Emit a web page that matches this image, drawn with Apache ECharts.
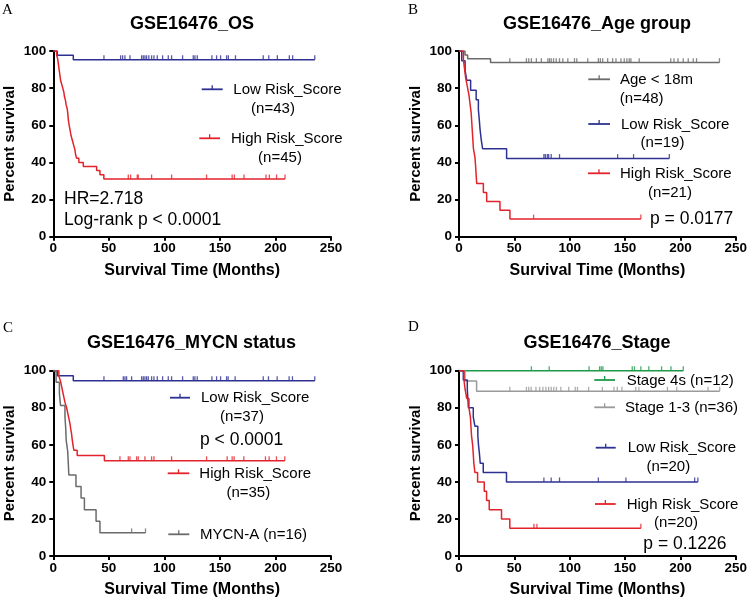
<!DOCTYPE html>
<html>
<head>
<meta charset="utf-8">
<script src="https://cdn.jsdelivr.net/npm/echarts@6/dist/echarts.min.js"></script>
<style>html,body{margin:0;padding:0;background:#fff;}#c{width:750px;height:601px;}</style>
</head>
<body>
<div id="c"></div>
<script>
// ---------- DATA ----------
const xTicks = [0, 50, 100, 150, 200, 250];
const yTicks = [0, 20, 40, 60, 80, 100];

// Panel A: GSE16476_OS
const A_low_t = [0, 3.6, 18, 235.4];
const A_low_s = [100, 97.7, 95.3, 95.3];
const A_low_c = [45.6, 60.6, 62.4, 64.5, 69, 79.5, 81, 82.5, 84, 86, 88.5, 90.6, 93.6, 98.4, 103.5, 106.5, 116.4, 126, 127.5, 129.6, 142.8, 147, 150.6, 156, 157.6, 164, 189, 194, 201.7, 212.5, 215.5, 235.4];
const A_high_t = [0, 3, 4, 4.5, 5, 5.5, 6, 6.5, 7.5, 8.5, 9.5, 10, 11, 11.5, 12.5, 13, 13.3, 13.7, 14.3, 15, 15.6, 16.5, 17.5, 18.5, 19.5, 20, 21, 23, 27, 39, 42, 45.5, 208.6];
const A_high_s = [100, 97.8, 95.6, 93.3, 91.1, 88.9, 86.7, 84.4, 82.2, 80, 77.8, 75.6, 73.3, 71.1, 68.9, 66.7, 64.4, 62.2, 60, 57.8, 55.6, 53.3, 51.1, 48.9, 46.7, 44.4, 42.2, 40, 37.8, 35.6, 33.3, 31.1, 31.1];
const A_high_c = [67.5, 69.6, 75.6, 76.5, 88.5, 106.5, 138, 161, 163, 171.7, 191.5, 194.5, 201, 208.6];

// Panel B: GSE16476_Age group
const B_age_t = [0, 5.4, 7.8, 28.5, 235.3];
const B_age_s = [100, 97.9, 95.8, 93.75, 93.75];
const B_age_c = [45.9, 60.9, 63, 65.4, 69.9, 74.4, 80.3, 81.8, 83.3, 85.4, 87.8, 90.8, 93.8, 98.3, 104.3, 106.4, 116.3, 125.9, 127.7, 129.8, 134.3, 138.8, 141.8, 146.3, 149.3, 151.7, 153.8, 155.3, 162.8, 191.3, 194.2, 197.8, 202.6, 207.1, 211.6, 214.6, 235.3];
const B_low_t = [0, 2.5, 5.5, 7, 10.5, 15.5, 17.5, 18.3, 19, 20, 21.3, 43, 190];
const B_low_s = [100, 94.7, 89.5, 84.2, 78.9, 73.7, 68.4, 63.2, 57.9, 52.6, 47.4, 42.1, 42.1];
const B_low_c = [76.7, 78, 79.8, 81, 83.3, 90.8, 143.3, 157.7, 190];
const B_high_t = [0, 4, 5, 6, 7.5, 9, 10, 11, 11.5, 12, 12.5, 13, 14.4, 15, 15.5, 16, 22, 25, 37, 46, 164.3];
const B_high_s = [100, 95.2, 90.5, 85.7, 81, 76.2, 71.4, 66.7, 61.9, 57.1, 52.4, 47.6, 42.9, 38.1, 33.3, 28.6, 23.8, 19, 14.3, 9.5, 9.5];
const B_high_c = [67.4, 164.3];

// Panel C: GSE16476_MYCN status
const C_low_t = [0, 3.6, 18, 235.4];
const C_low_s = [100, 97.3, 94.6, 94.6];
const C_low_c = [45.6, 63, 64.5, 66, 70.5, 79.5, 81, 82.5, 84, 85.5, 88.5, 90.6, 93.6, 98.4, 103.5, 106.5, 116.4, 126, 127.5, 129.6, 142.8, 147, 150.6, 156, 157.4, 163.7, 189, 193.7, 201.5, 212.3, 215.3, 235.4];
const C_high_t = [0, 5, 6.5, 7.5, 8.5, 9.5, 10.5, 12, 13, 14, 15, 15.7, 16.5, 17, 17.7, 18.5, 21.5, 46, 208.4];
const C_high_s = [100, 97.1, 94.3, 91.4, 88.6, 85.7, 82.9, 80, 77.1, 74.3, 71.4, 68.6, 65.7, 62.9, 60, 57.1, 54.3, 51.4, 51.4];
const C_high_c = [60, 67.5, 69, 75, 76.5, 82.5, 88.5, 90.6, 106.5, 138, 156.5, 161, 162.8, 171.5, 191, 194.3, 200.9, 208.4];
const C_mycn_t = [0, 2.5, 5.5, 6.5, 10.5, 11.2, 11.6, 13, 13.5, 14, 20.4, 25, 28, 38.5, 42, 83];
const C_mycn_s = [100, 93.75, 87.5, 81.25, 75, 68.75, 62.5, 56.25, 50, 43.75, 37.5, 31.25, 25, 18.75, 12.5, 12.5];
const C_mycn_c = [70.5, 83];

// Panel D: GSE16476_Stage
const D_4s_t = [0, 202.6];
const D_4s_s = [100, 100];
const D_4s_c = [65.4, 81.5, 117.5, 127, 128.5, 130, 156.5, 158.5, 164.3, 171.5, 183, 191.5, 202.6];
const D_13_t = [0, 5.4, 15.9, 235.5];
const D_13_s = [100, 94.4, 88.9, 88.9];
const D_13_c = [45.9, 60.9, 63, 65.2, 69.5, 72.9, 75.8, 78.5, 81, 83.3, 85.6, 88, 92, 99.1, 105, 107, 117.1, 129.5, 140, 143, 147.2, 159.7, 162.5, 188.3, 196.7, 225, 235.5];
const D_low_t = [0, 3.9, 7.5, 8, 8.5, 12.9, 14.4, 17, 17.6, 18.5, 19.2, 21.9, 42.9, 215.8];
const D_low_s = [100, 95, 90, 85, 80, 75, 70, 65, 60, 55, 50, 45, 40, 40];
const D_low_c = [76.7, 83.3, 90.8, 125.9, 150.8, 212.9, 215.8];
const D_high_t = [0, 4.5, 5.5, 7, 9, 10.3, 10.8, 11.3, 12.3, 12.9, 13.4, 14.4, 16.8, 22.8, 24.9, 27.3, 38.4, 45.9, 164.3];
const D_high_s = [100, 95, 90, 85, 80, 75, 70, 65, 60, 55, 50, 45, 40, 35, 30, 25, 20, 15, 15];
const D_high_c = [67.7, 70.4, 164.3];

const titles = ['GSE16476_OS', 'GSE16476_Age group', 'GSE16476_MYCN status', 'GSE16476_Stage'];
const panelLetters = ['A', 'B', 'C', 'D'];

// ---------- STYLE ----------
const BLUE = '#2e3192', RED = '#e3232b', GRAY = '#6b6b6b', LGRAY = '#9a9a9a', GREEN = '#1c9a48';
const FONT = '"Liberation Sans", Arial, sans-serif';

const grids = [
  {left: 53.3, top: 51, width: 277.7, height: 185.7},
  {left: 459, top: 51, width: 278, height: 185.7},
  {left: 53.3, top: 370.7, width: 277.7, height: 185.3},
  {left: 459, top: 370.7, width: 278, height: 185.3}
];

const curves = [
  {g: 0, t: A_low_t, s: A_low_s, c: A_low_c, color: BLUE},
  {g: 0, t: A_high_t, s: A_high_s, c: A_high_c, color: RED},
  {g: 1, t: B_age_t, s: B_age_s, c: B_age_c, color: GRAY},
  {g: 1, t: B_low_t, s: B_low_s, c: B_low_c, color: BLUE},
  {g: 1, t: B_high_t, s: B_high_s, c: B_high_c, color: RED},
  {g: 2, t: C_low_t, s: C_low_s, c: C_low_c, color: BLUE},
  {g: 2, t: C_high_t, s: C_high_s, c: C_high_c, color: RED},
  {g: 2, t: C_mycn_t, s: C_mycn_s, c: C_mycn_c, color: GRAY},
  {g: 3, t: D_4s_t, s: D_4s_s, c: D_4s_c, color: GREEN},
  {g: 3, t: D_13_t, s: D_13_s, c: D_13_c, color: LGRAY},
  {g: 3, t: D_low_t, s: D_low_s, c: D_low_c, color: BLUE},
  {g: 3, t: D_high_t, s: D_high_s, c: D_high_c, color: RED}
];

function survAt(ts, ss, t) {
  let v = ss[0];
  for (let i = 0; i < ts.length; i++) if (ts[i] <= t) v = ss[i];
  return v;
}

const series = [];
curves.forEach(cv => {
  series.push({
    type: 'line', xAxisIndex: cv.g, yAxisIndex: cv.g, step: 'end', symbol: 'none',
    data: cv.t.map((t, i) => [t, cv.s[i]]),
    lineStyle: {color: cv.color, width: 1.5}, animation: false, silent: true
  });
  series.push({
    type: 'scatter', xAxisIndex: cv.g, yAxisIndex: cv.g, symbol: 'rect',
    symbolSize: [1.3, 4.5], symbolOffset: [0, -2.2],
    data: cv.c.map(t => [t, survAt(cv.t, cv.s, t)]),
    itemStyle: {color: cv.color}, animation: false, silent: true
  });
});

const axisCommon = {
  axisLine: {show: true, onZero: false, lineStyle: {color: '#000', width: 2}},
  axisTick: {show: true, length: 4, lineStyle: {color: '#000', width: 2}},
  splitLine: {show: false},
  nameLocation: 'middle'
};

const xAxes = grids.map((g, i) => Object.assign({}, axisCommon, {
  gridIndex: i, type: 'value', min: xTicks[0], max: xTicks[xTicks.length - 1], interval: xTicks[1] - xTicks[0],
  axisLabel: {color: '#000', fontFamily: FONT, fontWeight: 'bold', fontSize: 13.5, margin: 5},
  name: 'Survival Time (Months)', nameGap: 26,
  nameTextStyle: {color: '#000', fontFamily: FONT, fontWeight: 'bold', fontSize: 16}
}));
const yAxes = grids.map((g, i) => Object.assign({}, axisCommon, {
  gridIndex: i, type: 'value', min: yTicks[0], max: yTicks[yTicks.length - 1], interval: yTicks[1] - yTicks[0],
  axisLabel: {color: '#000', fontFamily: FONT, fontWeight: 'bold', fontSize: 13.5, margin: 7},
  name: 'Percent survival', nameGap: 36,
  nameTextStyle: {color: '#000', fontFamily: FONT, fontWeight: 'bold', fontSize: 15}
}));

// ---------- TEXT / LEGENDS ----------
const graphic = [];
function txt(x, y, text, size, opts) {
  opts = opts || {};
  graphic.push({type: 'text', x: x, y: y, silent: true, style: {
    text: text, fill: '#000', align: opts.align || 'left', verticalAlign: 'middle',
    font: (opts.weight || 'normal') + ' ' + size + 'px ' + (opts.family || FONT)
  }});
}
function legendLine(x1, x2, y, color) {
  graphic.push({type: 'line', silent: true, shape: {x1: x1, y1: y, x2: x2, y2: y}, style: {stroke: color, lineWidth: 1.8}});
  const xm = (x1 + x2) / 2;
  graphic.push({type: 'line', silent: true, shape: {x1: xm, y1: y, x2: xm, y2: y - 4}, style: {stroke: color, lineWidth: 1.3}});
}

// titles
txt(192, 24, titles[0], 18, {align: 'center', weight: 'bold'});
txt(597, 24, titles[1], 18, {align: 'center', weight: 'bold'});
txt(191.5, 343.5, titles[2], 18, {align: 'center', weight: 'bold'});
txt(597, 343.5, titles[3], 18, {align: 'center', weight: 'bold'});
// panel letters
txt(2, 10, panelLetters[0], 15, {family: '"Liberation Serif", serif'});
txt(408, 10, panelLetters[1], 15, {family: '"Liberation Serif", serif'});
txt(3, 328, panelLetters[2], 15, {family: '"Liberation Serif", serif'});
txt(408, 327, panelLetters[3], 15, {family: '"Liberation Serif", serif'});

// Panel A legend
legendLine(201.7, 222.7, 89.3, BLUE);
txt(233.3, 90, 'Low Risk_Score', 15);
txt(273, 108.5, '(n=43)', 15, {align: 'center'});
legendLine(199.3, 220, 138.3, RED);
txt(231, 138.5, 'High Risk_Score', 15);
txt(280, 157.5, '(n=45)', 15, {align: 'center'});
txt(64, 199.5, 'HR=2.718', 17.5);
txt(64, 220.5, 'Log-rank p < 0.0001', 17.5);

// Panel B legend
legendLine(588.3, 610, 79.3, GRAY);
txt(620, 80, 'Age < 18m', 15);
txt(641.7, 98.5, '(n=48)', 15, {align: 'center'});
legendLine(588.3, 610, 124, BLUE);
txt(621, 124.5, 'Low Risk_Score', 15);
txt(662.5, 143, '(n=19)', 15, {align: 'center'});
legendLine(588, 610, 173.3, RED);
txt(620, 173.5, 'High Risk_Score', 15);
txt(670, 193, '(n=21)', 15, {align: 'center'});
txt(650, 219.5, 'p = 0.0177', 17.5);

// Panel C legend
legendLine(170, 190, 397.7, BLUE);
txt(201, 398, 'Low Risk_Score', 15);
txt(242, 416.5, '(n=37)', 15, {align: 'center'});
txt(200, 440, 'p < 0.0001', 17.5);
legendLine(167.7, 189.3, 473.3, RED);
txt(199.3, 473.5, 'High Risk_Score', 15);
txt(248.3, 493, '(n=35)', 15, {align: 'center'});
legendLine(168.3, 189.3, 534.3, GRAY);
txt(200, 534.5, 'MYCN-A (n=16)', 15);

// Panel D legend
legendLine(594.3, 615, 380, GREEN);
txt(626.7, 380.5, 'Stage 4s (n=12)', 15);
legendLine(594.3, 615, 407.3, LGRAY);
txt(625, 407.5, 'Stage 1-3 (n=36)', 15);
legendLine(595.7, 615.7, 447.7, BLUE);
txt(627.7, 448, 'Low Risk_Score', 15);
txt(668.3, 466.5, '(n=20)', 15, {align: 'center'});
legendLine(595, 615.7, 504, RED);
txt(626.7, 504.5, 'High Risk_Score', 15);
txt(676, 523, '(n=20)', 15, {align: 'center'});
txt(643.3, 544, 'p = 0.1226', 17.5);

const chart = echarts.init(document.getElementById('c'), null, {renderer: 'canvas'});
chart.setOption({
  backgroundColor: '#fff',
  animation: false,
  grid: grids,
  xAxis: xAxes,
  yAxis: yAxes,
  series: series,
  graphic: graphic
});
</script>
</body>
</html>
